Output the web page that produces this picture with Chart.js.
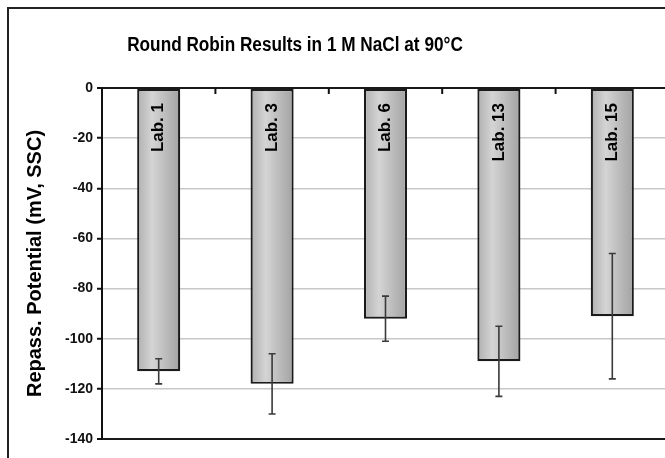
<!DOCTYPE html>
<html>
<head>
<meta charset="utf-8">
<script src="https://cdn.jsdelivr.net/npm/chart.js@4.4.0/dist/chart.umd.min.js"></script>
<style>
  html, body { margin: 0; padding: 0; background: #fff; }
  #wrap { width: 665px; height: 458px; overflow: hidden; position: relative; }
  #chart { position: absolute; left: 0; top: 0; }
</style>
</head>
<body>
<div id="wrap"><canvas id="chart" width="672" height="458"></canvas></div>
<script>
// DATA
var labs = ['Lab. 1', 'Lab. 3', 'Lab. 6', 'Lab. 13', 'Lab. 15'];
var potential = [-113, -118, -92, -109, -91];
var errTop = [-108, -106, -83, -95, -66];
var errBottom = [-118, -130, -101, -123, -116];
var yTicks = [0, -20, -40, -60, -80, -100, -120, -140];

var FONT = "'Liberation Sans', Arial, sans-serif";

// bar fill: grey cylinder look, one gradient per bar
function barFill(ctx) {
  var chart = ctx.chart;
  var xs = chart.scales.x;
  if (!xs || !chart.chartArea) return '#bdbdbd';
  var cx = xs.getPixelForValue(ctx.dataIndex);
  var w = (chart.chartArea.right - chart.chartArea.left) / labs.length * 0.38;
  var g = chart.ctx.createLinearGradient(cx - w / 2, 0, cx + w / 2, 0);
  g.addColorStop(0, '#b0b0b0');
  g.addColorStop(0.35, '#d4d4d4');
  g.addColorStop(1, '#a2a2a2');
  return g;
}

// title, frame, inner category ticks, rotated bar labels, error bars
var extras = {
  id: 'extras',
  beforeDraw: function(chart) {
    var c = chart.ctx;
    c.save();
    c.fillStyle = '#fff';
    c.fillRect(0, 0, chart.width, chart.height);
    c.strokeStyle = '#222';
    c.lineWidth = 2;
    c.strokeRect(8, 8, chart.width + 20, chart.height + 20);
    // title, a bit narrow like the original
    c.translate(295, 45);
    c.scale(0.86, 1);
    c.fillStyle = '#000';
    c.font = 'bold 20px ' + FONT;
    c.textAlign = 'center';
    c.textBaseline = 'middle';
    c.fillText('Round Robin Results in 1 M NaCl at 90°C', 0, 0);
    c.restore();
  },
  afterDatasetsDraw: function(chart) {
    var c = chart.ctx;
    var xs = chart.scales.x;
    var ys = chart.scales.y;
    var top = chart.chartArea.top;
    c.save();

    // category tick marks pointing into plot
    c.strokeStyle = '#111';
    c.lineWidth = 2;
    for (var i = 0; i < labs.length - 1; i++) {
      var bx = (xs.getPixelForValue(i) + xs.getPixelForValue(i + 1)) / 2;
      c.beginPath();
      c.moveTo(bx, top);
      c.lineTo(bx, top + 6);
      c.stroke();
    }

    // error bars
    c.strokeStyle = '#3a3a3a';
    c.lineWidth = 1.6;
    for (var j = 0; j < labs.length; j++) {
      var x = xs.getPixelForValue(j);
      var y1 = ys.getPixelForValue(errTop[j]);
      var y2 = ys.getPixelForValue(errBottom[j]);
      c.beginPath();
      c.moveTo(x, y1); c.lineTo(x, y2);
      c.moveTo(x - 3.5, y1); c.lineTo(x + 3.5, y1);
      c.moveTo(x - 3.5, y2); c.lineTo(x + 3.5, y2);
      c.stroke();
    }

    // labels inside bars
    c.fillStyle = '#000';
    c.font = 'bold 17px ' + FONT;
    c.textAlign = 'right';
    c.textBaseline = 'middle';
    for (var k = 0; k < labs.length; k++) {
      c.save();
      c.translate(xs.getPixelForValue(k), top + 15);
      c.rotate(-Math.PI / 2);
      c.fillText(labs[k], 0, 0);
      c.restore();
    }
    c.restore();
  }
};

var chart = new Chart(document.getElementById('chart'), {
  type: 'bar',
  data: {
    labels: labs,
    datasets: [{
      data: potential,
      backgroundColor: barFill,
      borderColor: '#1a1a1a',
      borderWidth: 2.2,
      borderSkipped: false,
      barPercentage: 0.38,
      categoryPercentage: 1.0
    }]
  },
  options: {
    responsive: false,
    animation: false,
    events: [],
    layout: { padding: { top: 88, right: 3, bottom: 19, left: 0 } },
    plugins: {
      legend: { display: false },
      title: { display: false },
      tooltip: { enabled: false }
    },
    scales: {
      x: { display: false },
      y: {
        min: -140,
        max: 0,
        afterBuildTicks: function(scale) {
          scale.ticks = yTicks.map(function(v) { return { value: v }; });
        },
        afterFit: function(scale) { scale.width = 102; },
        border: { display: true, color: '#111', width: 2 },
        grid: {
          color: function(ctx) {
            var v = ctx.tick ? ctx.tick.value : null;
            return (v === 0 || v === -140) ? '#1a1a1a' : '#c8c8c8';
          },
          lineWidth: function(ctx) {
            var v = ctx.tick ? ctx.tick.value : null;
            return (v === 0 || v === -140) ? 2 : 1.5;
          },
          tickColor: '#111',
          tickLength: 5,
          tickWidth: 2
        },
        ticks: {
          color: '#111',
          padding: 4,
          font: { family: FONT, size: 14, weight: 'bold' }
        },
        title: {
          display: true,
          text: 'Repass. Potential (mV, SSC)',
          color: '#000',
          padding: { top: 23, bottom: 0 },
          font: { family: FONT, size: 20, weight: 'bold' }
        }
      }
    }
  },
  plugins: [extras]
});
</script>
</body>
</html>
